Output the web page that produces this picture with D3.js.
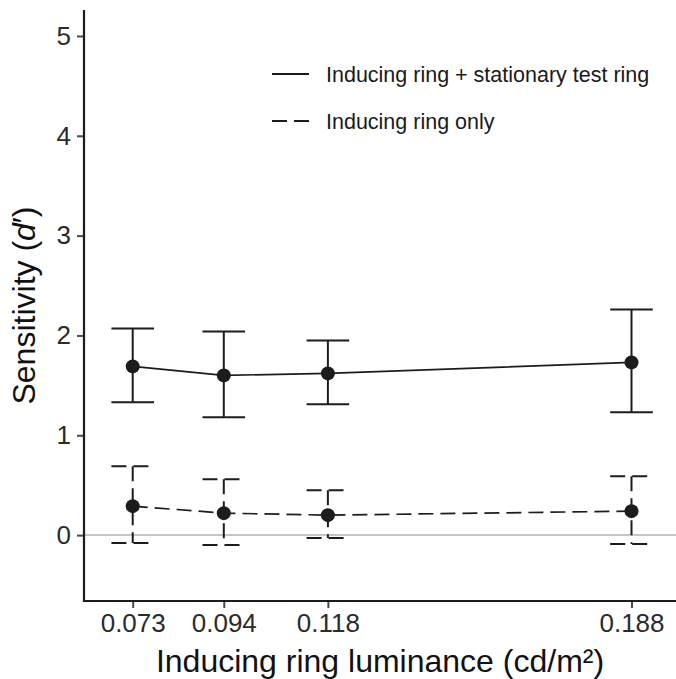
<!DOCTYPE html>
<html>
<head>
<meta charset="utf-8">
<script src="https://cdn.jsdelivr.net/npm/d3@7"></script>
<style>
  html, body { margin: 0; padding: 0; background: #fff; }
  svg { display: block; font-family: "Liberation Sans", Arial, sans-serif; }
</style>
</head>
<body>
<svg id="chart" width="676" height="679"></svg>
<script>
// Inducing ring luminance levels (cd/m²)
const luminance = [0.073, 0.094, 0.118, 0.188];
const xTickLabels = ["0.073", "0.094", "0.118", "0.188"];
const yTicks = [0, 1, 2, 3, 4, 5];

// Condition names (legend order)
const conditions = ["Inducing ring + stationary test ring", "Inducing ring only"];

// Sensitivity d' with error-bar bounds, per condition
const withTestMean  = [1.69, 1.60, 1.62, 1.73];
const withTestLow   = [1.33, 1.18, 1.31, 1.23];
const withTestHigh  = [2.07, 2.04, 1.95, 2.26];

const ringOnlyMean  = [0.29, 0.22, 0.20, 0.24];
const ringOnlyLow   = [-0.08, -0.10, -0.03, -0.09];
const ringOnlyHigh  = [0.69, 0.56, 0.45, 0.59];

const series = [
  { name: conditions[0], mean: withTestMean, low: withTestLow, high: withTestHigh, dash: null },
  { name: conditions[1], mean: ringOnlyMean, low: ringOnlyLow, high: ringOnlyHigh, dash: "15,7" }
];

const svg = d3.select("#chart");
const ink = "#1c1c1c";

const panel = { left: 84, right: 676, top: 10, bottom: 601 };

const x = d3.scaleLinear().domain([0.06177, 0.19826]).range([panel.left, panel.right]);
const y = d3.scaleLinear().domain([-0.66, 5.26]).range([panel.bottom, panel.top]);

// Reference line at zero
svg.append("line")
  .attr("x1", panel.left).attr("x2", panel.right)
  .attr("y1", y(0)).attr("y2", y(0))
  .attr("stroke", "#c6c6c6").attr("stroke-width", 2);

// Axes
const xAxis = d3.axisBottom(x).tickValues(luminance)
  .tickFormat((d, i) => xTickLabels[i]).tickSize(7).tickPadding(5);
const yAxis = d3.axisLeft(y).tickValues(yTicks)
  .tickFormat(d3.format("d")).tickSize(7).tickPadding(6);

const gx = svg.append("g").attr("transform", `translate(0,${panel.bottom})`).call(xAxis);
const gy = svg.append("g").attr("transform", `translate(${panel.left},0)`).call(yAxis);

[gx, gy].forEach(g => {
  g.select(".domain").remove();
  g.selectAll(".tick line").attr("stroke", "#4a4a4a").attr("stroke-width", 2);
  g.selectAll(".tick text").attr("fill", "#2b2b2b").style("font-size", "26px");
});
gx.selectAll(".tick text").attr("dy", "0.72em");

// Axis lines
svg.append("line")
  .attr("x1", panel.left).attr("x2", panel.left)
  .attr("y1", panel.top).attr("y2", panel.bottom + 1)
  .attr("stroke", ink).attr("stroke-width", 2.2);
svg.append("line")
  .attr("x1", panel.left - 1).attr("x2", panel.right)
  .attr("y1", panel.bottom).attr("y2", panel.bottom)
  .attr("stroke", ink).attr("stroke-width", 2.2);

// Error bars
const capHalf = 21.3;
series.forEach(s => {
  const g = svg.append("g")
    .attr("stroke", ink).attr("stroke-width", 2).attr("fill", "none")
    .attr("stroke-dasharray", s.dash);
  luminance.forEach((l, i) => {
    const cx = x(l);
    g.append("line").attr("x1", cx - capHalf).attr("x2", cx + capHalf)
      .attr("y1", y(s.high[i])).attr("y2", y(s.high[i]));
    g.append("line").attr("x1", cx).attr("x2", cx)
      .attr("y1", y(s.high[i])).attr("y2", y(s.low[i]));
    g.append("line").attr("x1", cx - capHalf).attr("x2", cx + capHalf)
      .attr("y1", y(s.low[i])).attr("y2", y(s.low[i]));
  });
});

// Connecting lines
const lineGen = d3.line().x((d, i) => x(luminance[i])).y(d => y(d));
series.forEach(s => {
  svg.append("path")
    .attr("d", lineGen(s.mean))
    .attr("fill", "none").attr("stroke", ink).attr("stroke-width", 1.7)
    .attr("stroke-dasharray", s.dash);
});

// Points
series.forEach(s => {
  svg.append("g").selectAll("circle")
    .data(s.mean).join("circle")
    .attr("cx", (d, i) => x(luminance[i]))
    .attr("cy", d => y(d))
    .attr("r", 7)
    .attr("fill", ink);
});

// Legend
const legend = svg.append("g");
series.forEach((s, i) => {
  const ly = 74 + i * 47;
  legend.append("line")
    .attr("x1", 272).attr("x2", 309).attr("y1", ly).attr("y2", ly)
    .attr("stroke", ink).attr("stroke-width", 2)
    .attr("stroke-dasharray", s.dash);
  legend.append("text")
    .attr("x", 326).attr("y", ly).attr("dy", "0.36em")
    .attr("fill", "#1a1a1a")
    .style("font-size", "21.5px")
    .text(s.name);
});

// Axis titles
svg.append("text")
  .attr("x", (panel.left + panel.right) / 2).attr("y", 672)
  .attr("text-anchor", "middle").attr("fill", "#111")
  .style("font-size", "32px")
  .text("Inducing ring luminance (cd/m²)");

const yt = svg.append("text")
  .attr("transform", `translate(35,${(panel.top + panel.bottom) / 2}) rotate(-90)`)
  .attr("text-anchor", "middle").attr("fill", "#111")
  .style("font-size", "32px");
yt.append("tspan").text("Sensitivity (");
yt.append("tspan").style("font-style", "italic").text("d");
yt.append("tspan").text("′)");
</script>
</body>
</html>
